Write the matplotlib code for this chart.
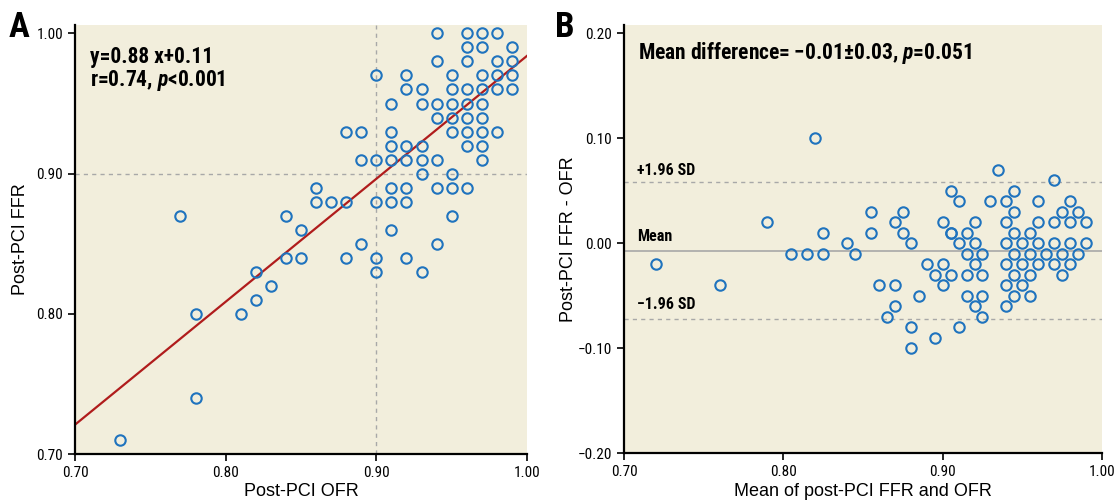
import matplotlib
matplotlib.use("Agg")
import matplotlib.pyplot as plt
from matplotlib.ticker import FuncFormatter

# panel A: post-PCI OFR (x) vs post-PCI FFR (y)
ofr_a = [0.94, 0.96, 0.97, 0.98,
         0.96, 0.97, 0.99,
         0.94, 0.96, 0.98, 0.99,
         0.90, 0.92, 0.95, 0.97, 0.98, 0.99,
         0.92, 0.93, 0.95, 0.96, 0.97, 0.98, 0.99,
         0.91, 0.93, 0.94, 0.95, 0.96, 0.97,
         0.94, 0.95, 0.96, 0.97,
         0.88, 0.89, 0.91, 0.95, 0.96, 0.97, 0.98,
         0.91, 0.92, 0.93, 0.96, 0.97,
         0.89, 0.90, 0.91, 0.92, 0.93, 0.94, 0.97,
         0.93, 0.95,
         0.86, 0.91, 0.92, 0.94, 0.95, 0.96,
         0.86, 0.87, 0.88, 0.90, 0.91, 0.92,
         0.77, 0.84, 0.95,
         0.85, 0.91,
         0.89, 0.94,
         0.84, 0.85, 0.88, 0.90, 0.92,
         0.82, 0.90, 0.93,
         0.83,
         0.82,
         0.78, 0.81,
         0.78,
         0.73]
ffr_a = [1.00] * 4 + [0.99] * 3 + [0.98] * 4 + [0.97] * 6 + [0.96] * 7 + \
        [0.95] * 6 + [0.94] * 4 + [0.93] * 7 + [0.92] * 5 + [0.91] * 7 + \
        [0.90] * 2 + [0.89] * 6 + [0.88] * 6 + [0.87] * 3 + [0.86] * 2 + \
        [0.85] * 2 + [0.84] * 5 + [0.83] * 3 + [0.82] + [0.81] + \
        [0.80] * 2 + [0.74] + [0.71]
fit_slope = 0.877
fit_intercept = 0.107

# panel B: Bland-Altman
mean_b = [0.72, 0.76, 0.79, 0.82, 0.805, 0.815, 0.825, 0.825, 0.84, 0.845,
          0.855, 0.855, 0.87, 0.875, 0.875, 0.88, 0.89, 0.895, 0.86, 0.87,
          0.885, 0.87, 0.865, 0.88, 0.895, 0.88,
          0.90, 0.90, 0.90, 0.905,
          0.935, 0.97, 0.905, 0.945, 0.91, 0.93, 0.94, 0.96, 0.98,
          0.945, 0.975, 0.985,
          0.92, 0.94, 0.96, 0.97, 0.98, 0.99,
          0.905, 0.915, 0.945, 0.955,
          0.91, 0.92, 0.94, 0.95, 0.96, 0.97, 0.98, 0.99,
          0.915, 0.925, 0.945, 0.955, 0.965, 0.975, 0.985,
          0.92, 0.94, 0.95, 0.96, 0.97, 0.98,
          0.905, 0.915, 0.925, 0.945, 0.955, 0.975,
          0.94, 0.95,
          0.915, 0.925, 0.945, 0.955,
          0.92, 0.94,
          0.925,
          0.91]
diff_b = [-0.02, -0.04, 0.02, 0.10, -0.01, -0.01, -0.01, 0.01, 0.00, -0.01,
          0.03, 0.01, 0.02, 0.03, 0.01, 0.00, -0.02, -0.03, -0.04, -0.04,
          -0.05, -0.06, -0.07, -0.08, -0.09, -0.10,
          0.02, -0.02, -0.04, 0.01,
          0.07, 0.06, 0.05, 0.05, 0.04, 0.04, 0.04, 0.04, 0.04,
          0.03, 0.03, 0.03,
          0.02, 0.02, 0.02, 0.02, 0.02, 0.02,
          0.01, 0.01, 0.01, 0.01,
          0.00, 0.00, 0.00, 0.00, 0.00, 0.00, 0.00, 0.00,
          -0.01, -0.01, -0.01, -0.01, -0.01, -0.01, -0.01,
          -0.02, -0.02, -0.02, -0.02, -0.02, -0.02,
          -0.03, -0.03, -0.03, -0.03, -0.03, -0.03,
          -0.04, -0.04,
          -0.05, -0.05, -0.05, -0.05,
          -0.06, -0.06,
          -0.07,
          -0.08]
mean_diff = -0.007
upper_loa = 0.058
lower_loa = -0.072

narrow = ['Roboto Condensed', 'DejaVu Sans']
plt.rcParams['font.family'] = ['Liberation Sans', 'DejaVu Sans']
plt.rcParams['mathtext.fontset'] = 'custom'
plt.rcParams['mathtext.it'] = 'Roboto Condensed:italic:bold'
plt.rcParams['mathtext.rm'] = 'Roboto Condensed:bold'

bg = '#f2eedc'
blue = '#1f73be'
red = '#b01c1c'
grey = '#a8a8a8'

fig = plt.figure(figsize=(11.16, 5.04), dpi=100)
ax1 = fig.add_axes([75 / 1116, 1 - 454 / 504, 452 / 1116, 429 / 504])
ax2 = fig.add_axes([624 / 1116, 1 - 453 / 504, 478 / 1116, 428 / 504])


def fmt(v, pos):
    return ('%.2f' % v).replace('-', '\u2212')


for ax in (ax1, ax2):
    ax.set_facecolor(bg)
    for s in ('top', 'right'):
        ax.spines[s].set_visible(False)
    for s in ('left', 'bottom'):
        ax.spines[s].set_linewidth(1.6)
    ax.tick_params(length=5, width=1.2, labelsize=11)
    ax.xaxis.set_major_formatter(FuncFormatter(fmt))
    ax.yaxis.set_major_formatter(FuncFormatter(fmt))

# panel A
ax1.set_xlim(0.70, 1.00)
ax1.set_ylim(0.70, 1.006)
ax1.set_xticks([0.70, 0.80, 0.90, 1.00])
ax1.set_yticks([0.70, 0.80, 0.90, 1.00])
ax1.axvline(0.90, color=grey, ls=(0, (3, 3)), lw=1)
ax1.axhline(0.90, color=grey, ls=(0, (3, 3)), lw=1)
ax1.axline((0.0, fit_intercept), slope=fit_slope, color=red, lw=1.6)
ax1.plot(ofr_a, ffr_a, 'o', mfc='none', mec=blue, ms=7.5, mew=1.5, clip_on=False)
ax1.text(0.033, 0.952, 'y=0.88 x+0.11\nr=0.74, $p$<0.001', transform=ax1.transAxes,
         family=narrow, fontweight='bold', fontsize=15.5, va='top', linespacing=1.05)
ax1.set_xlabel('Post-PCI OFR', fontsize=13)
ax1.set_ylabel('Post-PCI FFR', fontsize=13)
ax1.xaxis.set_label_coords(0.5, -0.068)
ax1.yaxis.set_label_coords(-0.102, 0.5)

# panel B
ax2.set_xlim(0.70, 1.00)
ax2.set_ylim(-0.20, 0.208)
ax2.set_xticks([0.70, 0.80, 0.90, 1.00])
ax2.set_yticks([-0.20, -0.10, 0.00, 0.10, 0.20])
ax2.axhline(upper_loa, color=grey, ls=(0, (3, 3)), lw=1)
ax2.axhline(lower_loa, color=grey, ls=(0, (3, 3)), lw=1)
ax2.axhline(mean_diff, color=grey, lw=1.2)
ax2.plot(mean_b, diff_b, 'o', mfc='none', mec=blue, ms=7.5, mew=1.5)
ax2.text(0.029, 0.935, 'Mean difference=\u2009\u22120.01\u00b10.03, $p$=0.051',
         transform=ax2.transAxes, family=narrow, fontweight='bold',
         fontsize=15.5, va='center')
ax2.text(0.027, 0.661, '+1.96 SD', transform=ax2.transAxes, family=narrow,
         fontweight='bold', fontsize=11.5, va='center')
ax2.text(0.027, 0.505, 'Mean', transform=ax2.transAxes, family=narrow,
         fontweight='bold', fontsize=11.5, va='center')
ax2.text(0.027, 0.348, '\u22121.96 SD', transform=ax2.transAxes, family=narrow,
         fontweight='bold', fontsize=11.5, va='center')
ax2.set_xlabel('Mean of post-PCI FFR and OFR', fontsize=13)
ax2.set_ylabel('Post-PCI FFR - OFR', fontsize=13)
ax2.xaxis.set_label_coords(0.5, -0.07)
ax2.yaxis.set_label_coords(-0.098, 0.5)

for ax in (ax1, ax2):
    for lab in ax.get_xticklabels() + ax.get_yticklabels():
        lab.set_family(narrow)

fig.text(0.008, 0.978, 'A', family=narrow, fontweight='bold', fontsize=25, va='top')
fig.text(0.497, 0.978, 'B', family=narrow, fontweight='bold', fontsize=25, va='top')

fig.savefig('out.png', dpi=100, facecolor='white')
